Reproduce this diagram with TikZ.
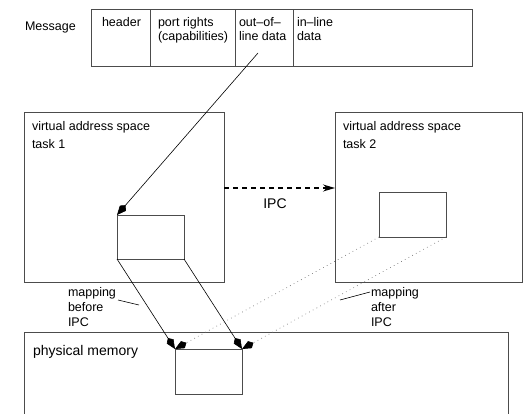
\documentclass[tikz,border=0pt]{standalone}
\usepackage{fontspec}
\setmainfont{Liberation Sans}
\usetikzlibrary{arrows.meta, positioning}

\begin{document}
\begin{tikzpicture}[x=1pt, y=-1pt,
  every node/.style={font=\fontsize{12.5}{14}\selectfont, inner sep=0pt, outer sep=0pt},
  box/.style={draw=black!70, line width=0.8pt, anchor=north west},
  cell/.style={box, minimum height=57pt},
  txt/.style={anchor=base west, align=left},
  big/.style={font=\fontsize{14}{16}\selectfont},
  map/.style={line width=0.6pt, -{Kite[length=13pt, width=8pt, inset=4pt, color=black]}},
  mapdot/.style={map, black!60, dash pattern=on 0.7pt off 3.5pt}]
\useasboundingbox (0,0) rectangle (527,414);
% message layout
\node[txt] (msg) at (25,31) {Message};
\node[cell, minimum width=59pt] (header) at (91,9) {};
\node[cell, minimum width=85pt, right=0pt of header] (ports) {};
\node[cell, minimum width=58pt, right=0pt of ports] (ool) {};
\node[cell, minimum width=179pt, right=0pt of ool] (inl) {};
\node[txt] at ([xshift=11pt, yshift=-18pt]header.north west) {header};
\node[txt] at ([xshift=8pt, yshift=-32pt]ports.north west) {port rights\\(capabilities)};
\node[txt] at ([xshift=4pt, yshift=-32pt]ool.north west) {out--of--\\line data};
\node[txt] at ([xshift=4pt, yshift=-32pt]inl.north west) {in--line\\data};
\coordinate (oolpt) at (258,53);
% address spaces
\node[box, minimum width=200pt, minimum height=170pt] (task1) at (24,112) {};
\node[box, minimum width=187pt, minimum height=170pt] (task2) at (335,112) {};
\node[txt, font=\fontsize{12.5}{18}\selectfont] at ([xshift=8pt, yshift=-37pt]task1.north west) {virtual address space\\task 1};
\node[txt, font=\fontsize{12.5}{18}\selectfont] at ([xshift=8pt, yshift=-37pt]task2.north west) {virtual address space\\task 2};
\node[box, minimum width=67pt, minimum height=44pt] (reg1) at (117,215) {};
\node[box, minimum width=67pt, minimum height=45pt] (reg2) at (379,192) {};
\node[box, minimum width=484pt, minimum height=100pt] (phys) at (24,332) {};
\node[txt, big] at ([xshift=9pt, yshift=-23pt]phys.north west) {physical memory};
\node[box, minimum width=67pt, minimum height=45pt] (reg3) at (175,349) {};
% connectors
\draw[map] (oolpt) -- (reg1.north west);
\draw[line width=1.3pt, dash pattern=on 5pt off 4pt, -{Stealth[length=12pt, width=7pt]}]
  ([yshift=9pt]task1.east) -- ([yshift=9pt]task2.west);
\node[big, anchor=base] (ipc) at (275,208) {IPC};
\draw[map] (reg1.south west) -- (reg3.north west);
\draw[map] (reg1.south east) -- (reg3.north east);
\draw[mapdot] (reg2.south west) -- (reg3.north west);
\draw[mapdot] (reg2.south east) -- (reg3.north east);
% mapping labels
\node[txt, font=\fontsize{12.5}{15}\selectfont] (before) at (68,326) {mapping\\before\\IPC};
\node[txt, font=\fontsize{12.5}{15}\selectfont] (after) at (371,326) {mapping\\after\\IPC};
\coordinate (bfrom) at (118,300);
\coordinate (bto) at (139,305);
\coordinate (afrom) at (370,292);
\coordinate (ato) at (340,300);
\draw[line width=0.6pt] (bfrom) -- (bto);
\draw[line width=0.6pt] (afrom) -- (ato);
\end{tikzpicture}
\end{document}
